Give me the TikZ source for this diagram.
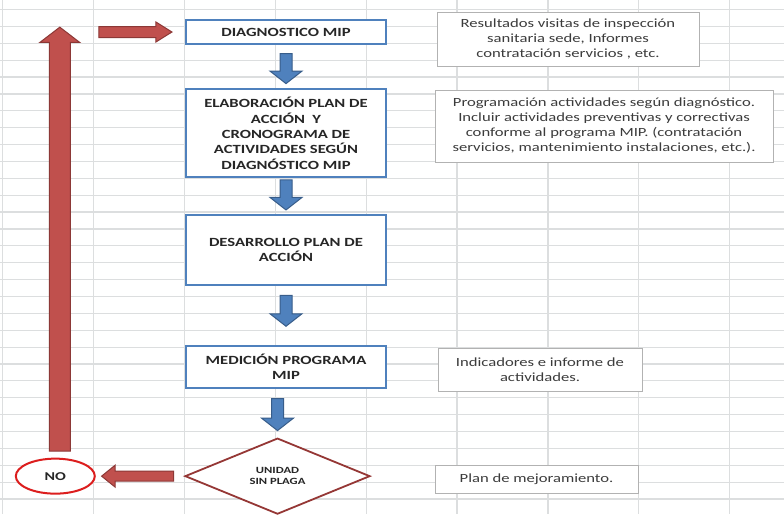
\documentclass[tikz,border=0pt]{standalone}
\usepackage{fontspec}
\setmainfont{Carlito}[FakeStretch=1.33]
\usetikzlibrary{positioning, shapes.arrows, shapes.geometric}
\definecolor{boxblue}{RGB}{79,129,189}
\definecolor{darkblue}{RGB}{56,93,138}
\definecolor{arrowred}{RGB}{192,80,77}
\definecolor{darkred}{RGB}{140,56,54}
\definecolor{diamondred}{RGB}{149,55,53}
\definecolor{nored}{RGB}{220,30,30}
\definecolor{gridgray}{RGB}{220,222,223}
\definecolor{notegray}{RGB}{60,60,60}
\tikzstyle{gridline}=[draw=gridgray, line width=1.2pt]
\tikzstyle{flow}=[rectangle, draw=boxblue, line width=2.2pt, fill=white, align=center, text=black!85, minimum width=200pt, inner sep=2pt, font=\fontsize{12.5}{15.3}\selectfont\bfseries]
\tikzstyle{note}=[rectangle, draw=black!30, line width=1pt, fill=white, align=center, text=notegray, font=\fontsize{12.5}{15}\selectfont]
\tikzstyle{downarrow}=[single arrow, shape border rotate=270, draw=darkblue, fill=boxblue, line width=1pt, inner sep=5.5pt, single arrow head extend=10pt, single arrow tip angle=104]
\tikzstyle{redarrow}=[single arrow, draw=darkred, fill=arrowred, line width=1pt]

\begin{document}
\begin{tikzpicture}[x=1pt, y=-1pt]
            \useasboundingbox (0,0) rectangle (784,514);
            \fill[white] (0,0) rectangle (784,514);
            % spreadsheet grid
            \foreach \r in {0,...,29}{
                \draw[gridline] (0,{9.5+16.88*\r}) -- (784,{9.5+16.88*\r});
            }
            \foreach \c in {0,...,8}{
                \draw[gridline] ({2.5+90.9*\c},0) -- ({2.5+90.9*\c},514);
            }
            % main flow
            \node[flow, minimum height=24pt](diag) at (286,32){DIAGNOSTICO MIP};
            \node[downarrow, minimum height=30pt, below = 8pt of diag](f1){};
            \node[flow, minimum height=88pt, below = 4pt of f1](elab){ELABORACIÓN PLAN DE\\ACCIÓN~ Y\\CRONOGRAMA DE\\ACTIVIDADES SEGÚN\\DIAGNÓSTICO MIP};
            \node[downarrow, minimum height=30pt, below = 1pt of elab](f2){};
            \node[flow, minimum height=70pt, below = 3pt of f2](desa){DESARROLLO PLAN DE\\ACCIÓN};
            \node[downarrow, minimum height=31pt, below = 9pt of desa](f3){};
            \node[flow, minimum height=42pt, below = 18pt of f3](medi){MEDICIÓN PROGRAMA\\MIP};
            \node[downarrow, minimum height=32pt, below = 9pt of medi, xshift=-8.5pt](f4){};
            \node[diamond, draw=diamondred, line width=1.8pt, fill=white, minimum width=185pt, minimum height=76pt, inner sep=0pt, align=center, text=black!85, font=\fontsize{9.5}{11}\selectfont\bfseries, below = 6pt of f4](unidad){UNIDAD\\SIN PLAGA};
            % way back
            \node[redarrow, shape border rotate=180, minimum height=72pt, inner sep=4.5pt, single arrow head extend=6pt, single arrow tip angle=78, left = 10pt of unidad](r1){};
            \node[ellipse, draw=nored, line width=2pt, fill=white, minimum width=79pt, minimum height=35pt, inner sep=0pt, text=black!85, font=\fontsize{12}{14}\selectfont\bfseries, left = 5pt of r1](no){NO};
            \node[redarrow, shape border rotate=90, minimum height=424pt, inner sep=10pt, single arrow head extend=9.5pt, single arrow tip angle=105, above = 6pt of no, xshift=4.5pt](r2){};
            \node[redarrow, minimum height=73pt, inner sep=5pt, single arrow head extend=4.5pt, single arrow tip angle=64, left = 12pt of diag](r3){};
            % notes
            \node[note, minimum width=262pt, minimum height=54pt](nA) at (568,39){Resultados visitas de inspección\\sanitaria sede, Informes\\contratación servicios , etc.};
            \node[note, minimum width=338pt, minimum height=72pt](nB) at (604,126){Programación actividades según diagnóstico.\\Incluir actividades preventivas y correctivas\\conforme al programa MIP. (contratación\\servicios, mantenimiento instalaciones, etc.).};
            \node[note, minimum width=204pt, minimum height=43pt](nC) at (540,369.5){Indicadores e informe de\\actividades.};
            \node[note, minimum width=203pt, minimum height=28pt](nD) at (536.5,479){Plan de mejoramiento.};
\end{tikzpicture}
\end{document}
